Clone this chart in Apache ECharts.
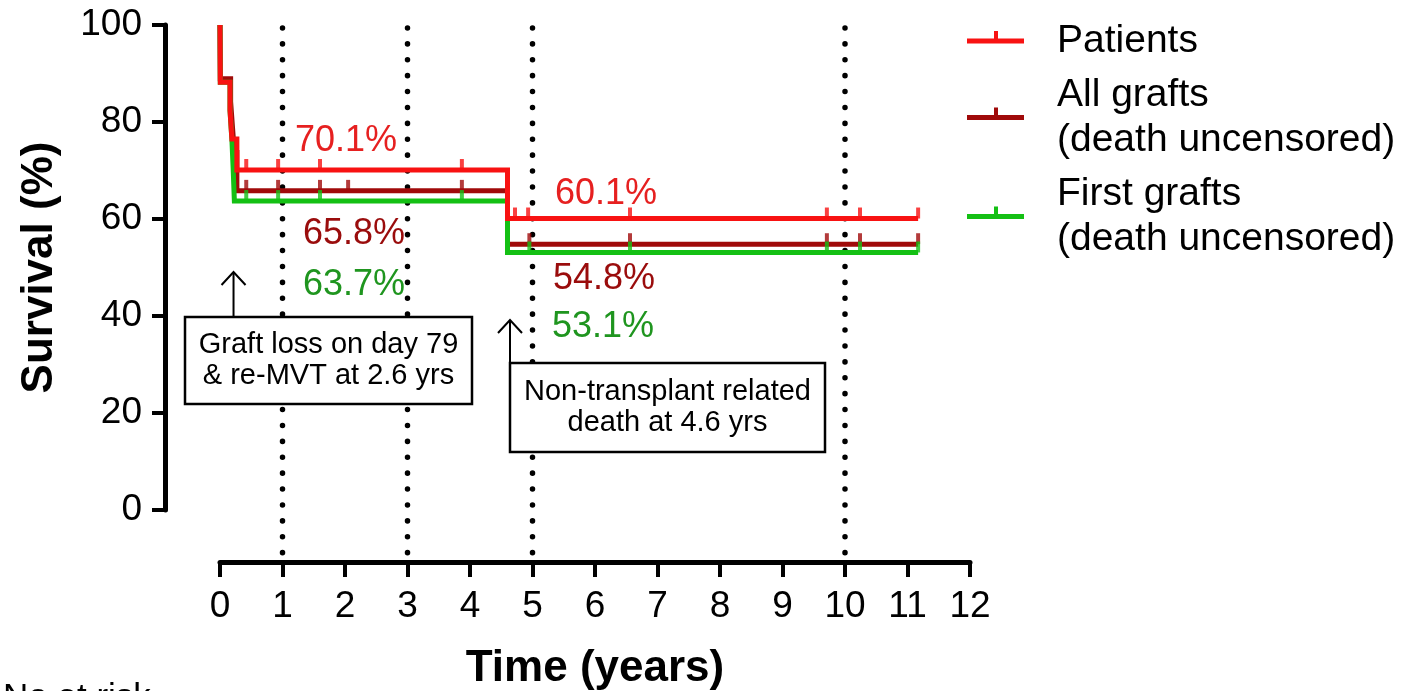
<!DOCTYPE html>
<html>
<head>
<meta charset="utf-8">
<script src="https://cdn.jsdelivr.net/npm/echarts@6/dist/echarts.min.js"></script>
<style>
  html, body { margin: 0; padding: 0; background: #ffffff; }
  #chart { width: 1415px; height: 691px; }
</style>
</head>
<body>
<div id="chart"></div>
<script>
// ---------------- DATA ----------------
const seriesNames = ['Patients', 'All grafts\n(death uncensored)', 'First grafts\n(death uncensored)'];

// Kaplan-Meier step curves (time in years, survival in %)
const patientsTime   = [0, 0.005, 0.16, 0.19, 0.27, 4.6, 11.17];
const patientsSurv   = [100, 88.2, 82.4, 76.5, 70.1, 60.1, 60.1];
const allGraftsTime  = [0, 0.005, 0.17, 0.2, 0.23, 0.27, 4.6, 11.17];
const allGraftsSurv  = [100, 88.9, 84.2, 78.9, 73.7, 65.8, 54.8, 54.8];
const firstGraftsTime = [0, 0.005, 0.16, 0.19, 0.21, 0.23, 4.6, 11.17];
const firstGraftsSurv = [100, 88.2, 82.4, 76.5, 70.6, 63.7, 53.1, 53.1];

// Censored observations (time, survival level)
const patientsCensTime    = [0.42, 0.93, 1.6, 3.87, 4.72, 4.93, 6.56, 9.71, 10.24, 11.17];
const patientsCensSurv    = [70.1, 70.1, 70.1, 70.1, 60.1, 60.1, 60.1, 60.1, 60.1, 60.1];
const allGraftsCensTime   = [0.42, 0.93, 1.6, 2.05, 3.87, 4.95, 6.56, 9.71, 10.24, 11.17];
const allGraftsCensSurv   = [65.8, 65.8, 65.8, 65.8, 65.8, 54.8, 54.8, 54.8, 54.8, 54.8];
const firstGraftsCensTime = [0.42, 0.93, 1.6, 3.87, 4.95, 6.56, 9.71, 10.24, 11.17];
const firstGraftsCensSurv = [63.7, 63.7, 63.7, 63.7, 53.1, 53.1, 53.1, 53.1, 53.1];

// Dotted reference lines (years)
const referenceYears = [1, 3, 5, 10];

// Percentage annotations
const pctTexts = ['70.1%', '65.8%', '63.7%', '60.1%', '54.8%', '53.1%'];

// Event annotations
const eventTimes = [79 / 365, 4.64];
const eventTexts = ['Graft loss on day 79\n& re-MVT at 2.6 yrs', 'Non-transplant related\ndeath at 4.6 yrs'];

// ---------------- STYLE ----------------
const FONT = "'Liberation Sans', Arial, Helvetica, sans-serif";
const lineColors  = ['#f81212', '#a00a0a', '#14c014'];
const labelColors = ['#e62020', '#9a0c0c', '#1f951f'];
const pctColorIdx = [0, 1, 2, 0, 1, 2];
const pctPos = [[346, 141], [354, 234], [354, 285], [606, 194], [604, 279], [603, 327]];
const boxes = [
  { x: 185, y: 317, w: 287, h: 87, tipY: 272, textY: 360 },
  { x: 510, y: 363, w: 315, h: 89, tipY: 320, textY: 407 }
];
const LEGEND_ICON = 'path://M0,0L0.01,0L0,0.01Z M0,9.5L57,9.5L57,14.5L0,14.5Z M27,2L31,2L31,9.5L27,9.5Z M84.99,24L85,24L85,23.99Z';
const zOrder = [4, 2, 3];

const curves = [
  [patientsTime, patientsSurv, patientsCensTime, patientsCensSurv],
  [allGraftsTime, allGraftsSurv, allGraftsCensTime, allGraftsCensSurv],
  [firstGraftsTime, firstGraftsSurv, firstGraftsCensTime, firstGraftsCensSurv]
];

const series = [];
referenceYears.forEach(function (yr) {
  series.push({
    type: 'line', data: [[yr, 100], [yr, -11]], symbol: 'none', clip: false, silent: true,
    lineStyle: { color: '#000', width: 5.5, type: [0.1, 15.8], cap: 'round', dashOffset: 13 },
    z: 1, animation: false, tooltip: { show: false }
  });
});
curves.forEach(function (c, i) {
  series.push({
    type: 'line', name: seriesNames[i], step: 'end', symbol: 'none', clip: false, silent: true,
    data: c[0].map(function (t, k) { return [t, c[1][k]]; }),
    lineStyle: { color: lineColors[i], width: 5, cap: 'butt', join: 'miter' },
    itemStyle: { color: lineColors[i] },
    z: zOrder[i], animation: false
  });
  series.push({
    type: 'scatter', name: seriesNames[i], symbol: 'rect', symbolSize: [4, 11], symbolOffset: [0, -5.5],
    data: c[2].map(function (t, k) { return [t, c[3][k]]; }),
    itemStyle: { color: lineColors[i] }, clip: false, silent: true,
    z: zOrder[i], animation: false
  });
});

const chart = echarts.init(document.getElementById('chart'), null, { renderer: 'canvas' });
const axisLineStyle = { color: '#000', width: 5 };
chart.setOption({
  animation: false,
  backgroundColor: '#ffffff',
  grid: { left: 220, right: 445, top: 25, bottom: 181, containLabel: false, outerBoundsMode: 'none' },
  xAxis: {
    type: 'value', min: 0, max: 12, interval: 1, offset: 52,
    axisLine: { show: true, onZero: false, lineStyle: axisLineStyle },
    axisTick: { show: true, length: 15, lineStyle: { color: '#000', width: 4 } },
    axisLabel: { fontSize: 37, color: '#000', margin: 26, fontFamily: FONT },
    splitLine: { show: false },
    name: 'Time (years)', nameLocation: 'middle', nameGap: 85,
    nameTextStyle: { fontSize: 44, fontWeight: 'bold', color: '#000', fontFamily: FONT }
  },
  yAxis: {
    type: 'value', min: 0, max: 100, interval: 20, offset: 55,
    axisLine: { show: true, onZero: false, lineStyle: axisLineStyle },
    axisTick: { show: true, length: 13, lineStyle: { color: '#000', width: 4 } },
    axisLabel: { fontSize: 37, color: '#000', margin: 23, fontFamily: FONT },
    splitLine: { show: false },
    name: 'Survival (%)', nameLocation: 'middle', nameGap: 103, nameRotate: 90,
    nameTextStyle: { fontSize: 44, fontWeight: 'bold', color: '#000', fontFamily: FONT }
  },
  legend: {
    orient: 'vertical', left: 967, top: 18.5, itemGap: 9, itemWidth: 85, itemHeight: 24, padding: 0,
    selectedMode: false,
    data: seriesNames.map(function (n) { return { name: n, icon: LEGEND_ICON }; }),
    itemStyle: { borderWidth: 0 },
    textStyle: { fontSize: 39, lineHeight: 45, color: '#000', fontFamily: FONT }
  },
  series: series
});

// ---------------- ANNOTATIONS ----------------
const graphics = [];
pctTexts.forEach(function (txt, i) {
  graphics.push({
    type: 'text', x: pctPos[i][0], y: pctPos[i][1], z: 50,
    style: { text: txt, fill: labelColors[pctColorIdx[i]], font: '36px ' + FONT, align: 'center', verticalAlign: 'middle' }
  });
});
eventTimes.forEach(function (t, i) {
  const b = boxes[i];
  const ax = chart.convertToPixel({ gridIndex: 0 }, [t, 0])[0];
  graphics.push({
    type: 'line', z: 60, shape: { x1: ax, y1: b.tipY, x2: ax, y2: b.y },
    style: { stroke: '#000', lineWidth: 2 }
  });
  graphics.push({
    type: 'polyline', z: 60, shape: { points: [[ax - 12, b.tipY + 13], [ax, b.tipY], [ax + 12, b.tipY + 13]] },
    style: { stroke: '#000', lineWidth: 2, fill: null }
  });
  graphics.push({
    type: 'rect', z: 60, shape: { x: b.x, y: b.y, width: b.w, height: b.h },
    style: { fill: '#fff', stroke: '#000', lineWidth: 2.5 }
  });
  graphics.push({
    type: 'text', z: 61, x: b.x + b.w / 2, y: b.textY,
    style: { text: eventTexts[i], fill: '#000', font: '29px ' + FONT, align: 'center', verticalAlign: 'middle', lineHeight: 31 }
  });
});
graphics.push({
  type: 'text', x: 3, y: 681, z: 50,
  style: { text: 'No at risk', fill: '#000', font: '35px ' + FONT, align: 'left', verticalAlign: 'top' }
});
chart.setOption({ graphic: graphics });
</script>
</body>
</html>
